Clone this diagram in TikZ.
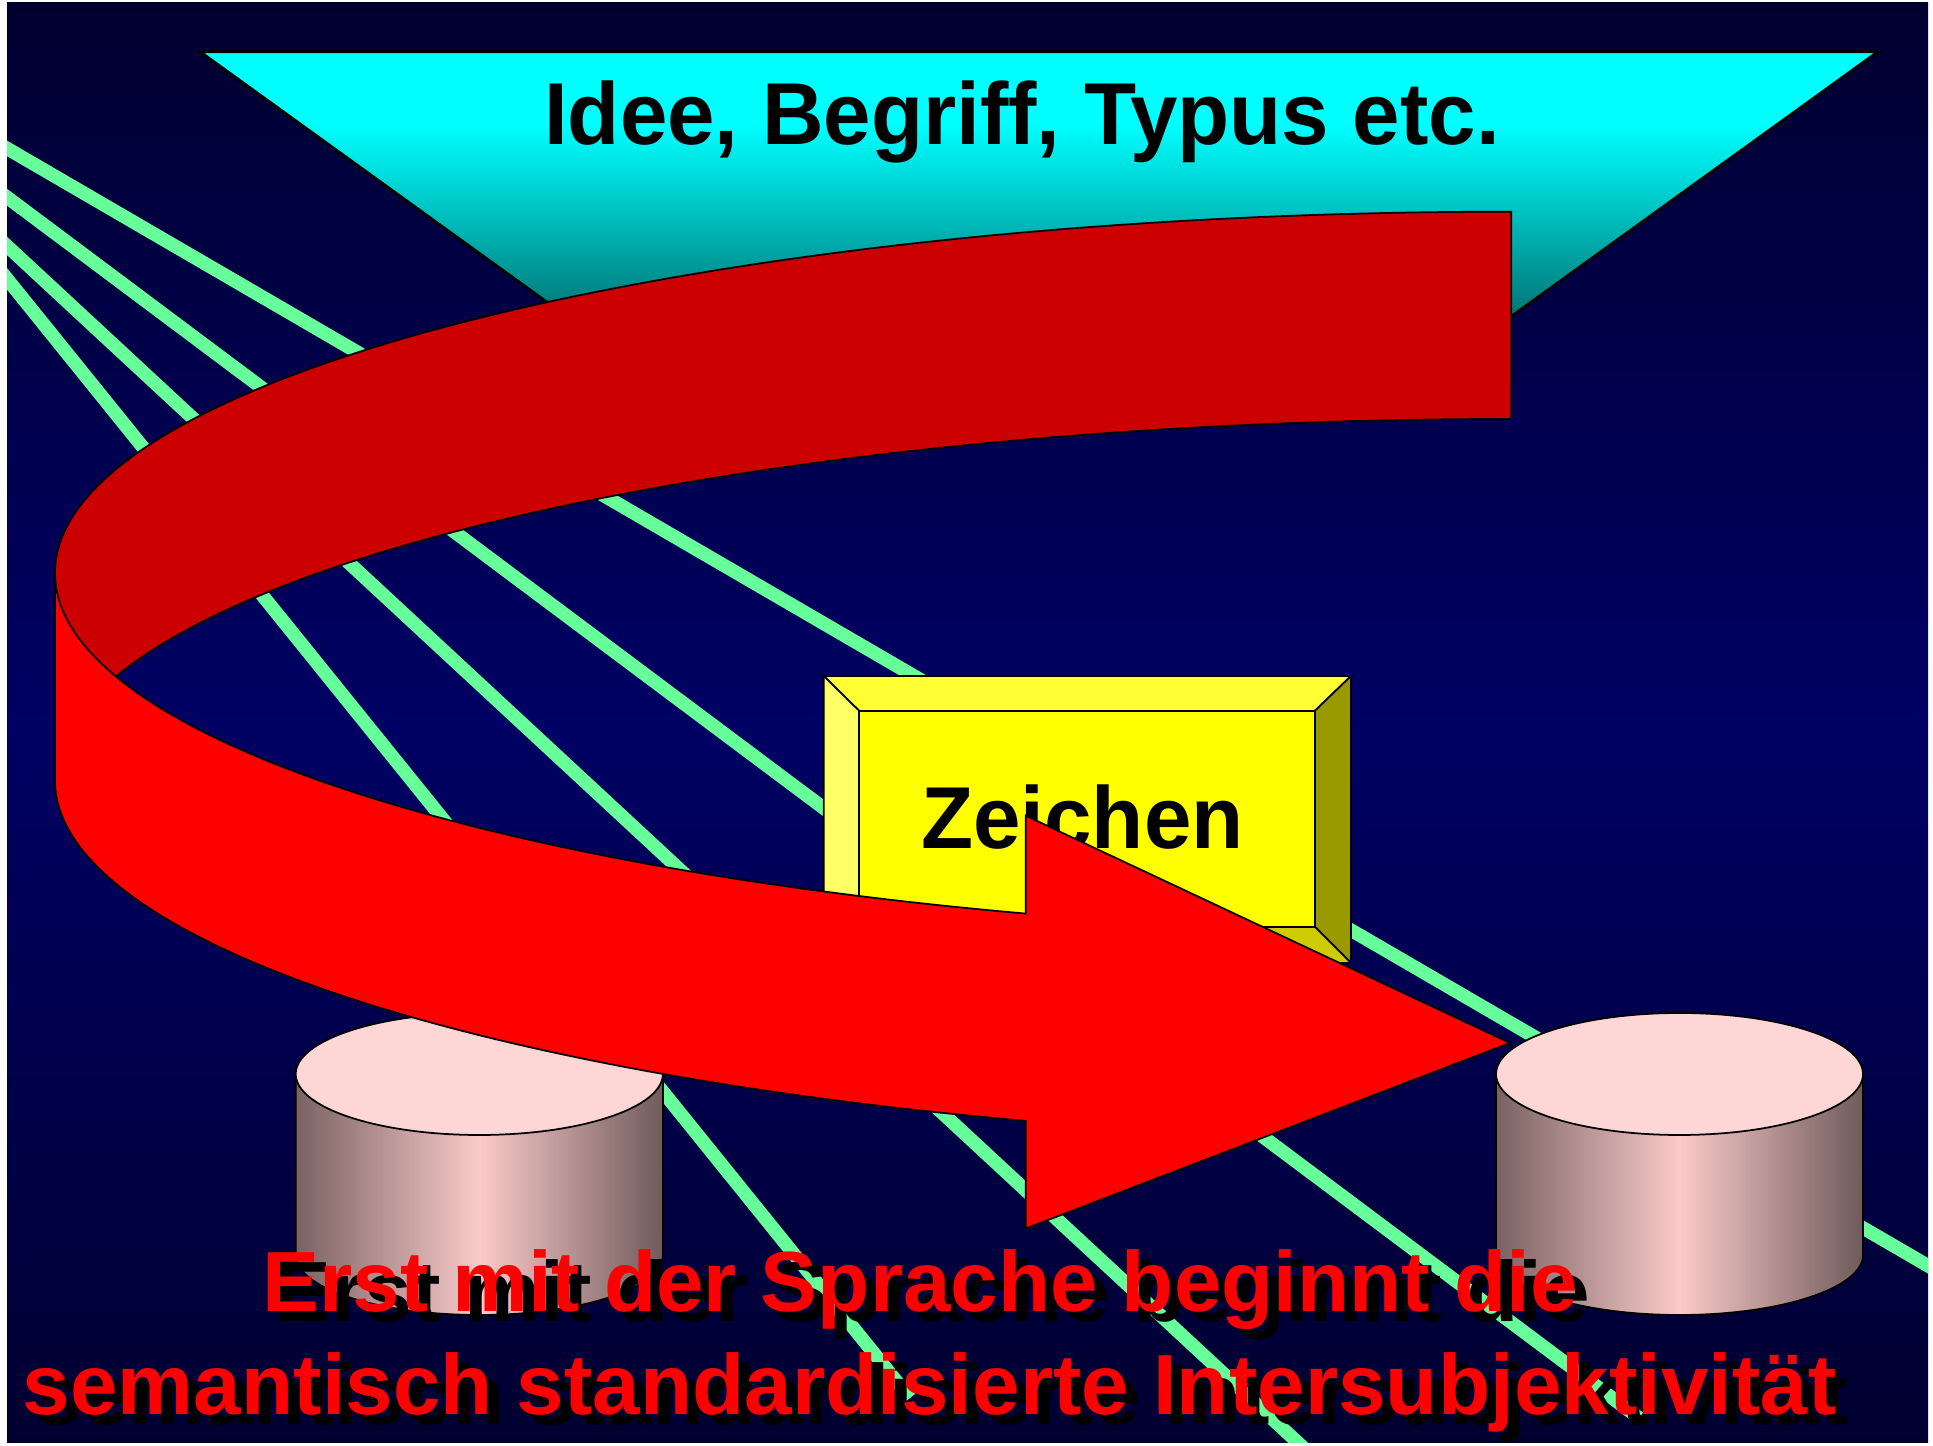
\documentclass[tikz,border=0pt]{standalone}
\usepackage{fontspec}
\setmainfont{Liberation Sans}
\newfontfamily\narrowfont[FakeStretch=0.97]{Liberation Sans}
\definecolor{bgdark}{RGB}{0,0,48}
\definecolor{bgmid}{RGB}{0,0,100}
\definecolor{gline}{RGB}{102,255,153}
\definecolor{darkred}{RGB}{204,0,0}
\definecolor{brightred}{RGB}{255,0,0}
\definecolor{cylside}{RGB}{122,98,98}
\definecolor{cylsideb}{RGB}{112,90,90}
\definecolor{cylmid}{RGB}{250,202,202}
\definecolor{cyltop}{RGB}{255,214,214}
\definecolor{boxtop}{RGB}{255,255,51}
\definecolor{boxleft}{RGB}{255,255,102}
\definecolor{boxright}{RGB}{153,153,0}
\definecolor{boxbottom}{RGB}{204,204,0}
\definecolor{boxface}{RGB}{255,255,0}
\pgfdeclareverticalshading{trishade}{100bp}{rgb(0bp)=(0,0.306,0.306); rgb(25bp)=(0,0.306,0.306); rgb(37.57bp)=(0,0.533,0.533); rgb(54.85bp)=(0,0.847,0.847); rgb(63.8bp)=(0,1,1); rgb(100bp)=(0,1,1)}
\tikzset{
  greenray/.style={draw=gline, line width=0.135cm},
  thinedge/.style={draw=black, line width=0.5pt},
  cylbody/.style={left color=cylside, right color=cylsideb, middle color=cylmid, thinedge},
  cyllid/.style={fill=cyltop, thinedge},
  bigtext/.style={font=\fontsize{25pt}{30pt}\narrowfont\bfseries, inner sep=0pt, anchor=base},
  redtext/.style={font=\fontsize{24.3pt}{29pt}\selectfont\bfseries, inner sep=0pt, anchor=base, text=brightred},
  shadowtext/.style={font=\fontsize{24.3pt}{29pt}\selectfont\bfseries, inner sep=0pt, anchor=base, text=black}
}
\begin{document}
\begin{tikzpicture}[x=0.01cm,y=0.01cm]
\useasboundingbox (0,0) rectangle (1933,1446);
\fill[white] (0,0) rectangle (1933,1446);
% background
\shade[top color=bgdark, bottom color=bgdark, middle color=bgmid] (7,3) rectangle (1928,1443);
% green rays
\begin{scope}
  \clip (7,3) rectangle (1928,1443);
  \draw[greenray] (-50,1330.7) -- (1980,150);
  \draw[greenray] (-50,1291.4) -- (1639,28);
  \draw[greenray] (-50,1252.9) -- (1600,-276.7);
  \draw[greenray] (-50,1237.8) -- (910,48);
\end{scope}
% title trapezoid
\shadedraw[shading=trishade, draw=black, line width=0.8pt] (200,1394.3) -- (1878,1394.3) -- (1437.1,1076) -- (640.9,1076) -- cycle;
\node[bigtext] (title) at (1022,1301) {Idee, Begriff, Typus etc.};
% Zeichen box
\filldraw[fill=boxtop, thinedge] (823.7,770) -- (1351,770) -- (1314.7,735) -- (859.3,735) -- cycle;
\filldraw[fill=boxleft, thinedge] (823.7,770) -- (859.3,735) -- (859.3,519.3) -- (823.7,483) -- cycle;
\filldraw[fill=boxright, thinedge] (1351,770) -- (1351,483) -- (1314.7,519.3) -- (1314.7,735) -- cycle;
\filldraw[fill=boxbottom, thinedge] (823.7,483) -- (1351,483) -- (1314.7,519.3) -- (859.3,519.3) -- cycle;
\filldraw[fill=boxface, thinedge] (859.3,519.3) rectangle (1314.7,735);
\node[bigtext] (zeichen) at (1082.4,597) {Zeichen};
% cylinders
\shadedraw[cylbody] (295.7,372) -- (295.7,191) arc[start angle=180, end angle=360, x radius=183.6, y radius=60] -- (663,372) -- cycle;
\filldraw[cyllid] (479.3,372) ellipse[x radius=183.6, y radius=61];
\shadedraw[cylbody] (1496,372) -- (1496,191) arc[start angle=180, end angle=360, x radius=183.5, y radius=60] -- (1863,372) -- cycle;
\filldraw[cyllid] (1679.5,372) ellipse[x radius=183.5, y radius=61];
% curved arrow: back band
\filldraw[fill=darkred, thinedge] (1511.3,1234.3) arc[start angle=90, end angle=180, x radius=1456.3, y radius=361.3] -- (55,665.7) arc[start angle=180, end angle=90, x radius=1456.3, y radius=361.3] -- cycle;
% curved arrow: front band with head
\filldraw[fill=brightred, thinedge] (55,873) arc[start angle=180, end angle=250.526, x radius=1456.3, y radius=361.3] -- (1025.8,630.3) -- (1510,403) -- (1025.8,217.5) -- (1025.8,325.1) arc[start angle=250.526, end angle=180, x radius=1456.3, y radius=361.3] -- cycle;
% bottom text
\node[shadowtext] (shadowA) at (932,124) {Erst mit der Sprache beginnt die};
\node[redtext] (lineA) at (920,134.3) {Erst mit der Sprache beginnt die};
\node[shadowtext] (shadowB) at (942,21) {semantisch standardisierte Intersubjektivität};
\node[redtext] (lineB) at (930,31) {semantisch standardisierte Intersubjektivität};
\end{tikzpicture}
\end{document}
